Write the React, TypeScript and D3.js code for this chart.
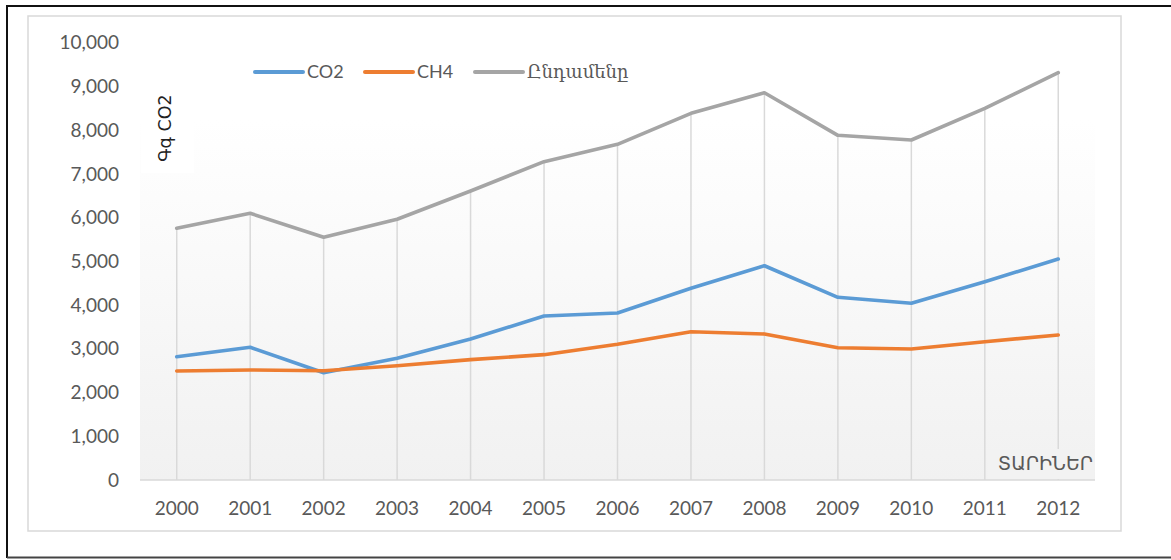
import React from "react";
import * as d3 from "d3";

const years = ["2000","2001","2002","2003","2004","2005","2006","2007","2008","2009","2010","2011","2012"];
const co2 = [2820, 3035, 2454, 2783, 3224, 3750, 3819, 4384, 4900, 4178, 4041, 4535, 5054];
const ch4 = [2493, 2515, 2499, 2614, 2752, 2866, 3105, 3391, 3339, 3025, 2996, 3163, 3316];
const total = [5756, 6099, 5550, 5962, 6609, 7279, 7677, 8385, 8856, 7882, 7775, 8500, 9314];
const yTicks = [0, 1000, 2000, 3000, 4000, 5000, 6000, 7000, 8000, 9000, 10000];
const seriesNames = ["CO2", "CH4", "Ընդամենը"];
const seriesColors = ["#5B9BD5", "#ED7D31", "#A5A5A5"];
const yTitle = "Գգ CO2";
const xTitle = "ՏԱՐԻՆԵՐ";

export default function App() {
  const W = 1171, H = 560;
  const plotL = 140, plotR = 1095, plotT = 42.7, plotB = 480;
  const x = d3.scaleBand<string>().domain(years).range([plotL, plotR]).padding(0);
  const cx = (d: string) => (x(d) as number) + x.bandwidth() / 2;
  const y = d3.scaleLinear().domain([0, 10000]).range([plotB, plotT]);
  const fmt = d3.format(",");
  const series = [co2, ch4, total];
  const line = d3.line<number>().x((_, i) => cx(years[i])).y((v) => y(v));
  const font = "Lato, 'DejaVu Sans', sans-serif";
  const armFont = "'DejaVu Serif', serif";
  const legendX = [255, 365, 475];

  return (
    <svg width={W} height={H} style={{ position: "absolute", left: 0, top: 0 }}>
      <defs>
        <linearGradient id="bg" x1="0" y1="0" x2="0" y2="1">
          <stop offset="0%" stopColor="#ffffff" />
          <stop offset="20%" stopColor="#ffffff" />
          <stop offset="100%" stopColor="#f1f1f1" />
        </linearGradient>
      </defs>
      <rect x={0} y={0} width={W} height={H} fill="#fff" />
      {/* outer frame */}
      <line x1={7} y1={6} x2={W} y2={6} stroke="#111" strokeWidth={2} />
      <line x1={7} y1={5} x2={7} y2={558} stroke="#111" strokeWidth={2} />
      <line x1={7} y1={557.5} x2={W} y2={557.5} stroke="#444" strokeWidth={2} />
      {/* chart area border */}
      <rect x={28} y={16} width={1093} height={515} fill="#fff" stroke="#d9d9d9" strokeWidth={1.5} />
      {/* plot area */}
      <rect x={plotL} y={30} width={plotR - plotL} height={plotB - 30} fill="url(#bg)" />
      {/* y-title box */}
      <rect x={141} y={85} width={53} height={88} fill="#fff" />
      {/* drop lines */}
      {years.map((yr, i) => (
        <line key={yr} x1={cx(yr)} x2={cx(yr)} y1={y(Math.max(co2[i], ch4[i], total[i]))} y2={plotB}
          stroke="#d9d9d9" strokeWidth={1.5} />
      ))}
      {/* x axis */}
      <line x1={plotL} x2={plotR} y1={plotB} y2={plotB} stroke="#d9d9d9" strokeWidth={1.5} />
      {/* y tick labels */}
      {yTicks.map((t) => (
        <text key={t} x={119} y={y(t)} dy="0.35em" textAnchor="end" fontFamily={font} fontSize={19} fill="#595959">
          {fmt(t)}
        </text>
      ))}
      {/* x tick labels */}
      {years.map((yr) => (
        <text key={yr} x={cx(yr)} y={508} dy="0.35em" textAnchor="middle" fontFamily={font} fontSize={19} fill="#595959">
          {yr}
        </text>
      ))}
      {/* series */}
      {series.map((s, k) => (
        <path key={k} d={line(s) as string} fill="none" stroke={seriesColors[k]} strokeWidth={3.6}
          strokeLinejoin="round" strokeLinecap="round" />
      ))}
      {/* x-title */}
      <rect x={988} y={449} width={106} height={30} fill="#f2f2f2" />
      <text x={1093} y={470} textAnchor="end" fontFamily="'DejaVu Sans', sans-serif" fontSize={19} fill="#595959">
        {xTitle}
      </text>
      {/* y-title */}
      <text transform={`translate(171,128) rotate(-90)`} textAnchor="middle" fontFamily="'DejaVu Sans', sans-serif"
        fontSize={17.5} fill="#222">
        {yTitle}
      </text>
      {/* legend */}
      {seriesNames.map((n, k) => (
        <g key={n}>
          <line x1={legendX[k]} x2={legendX[k] + 48} y1={72} y2={72} stroke={seriesColors[k]} strokeWidth={4}
            strokeLinecap="round" />
          <text x={legendX[k] + 52} y={72} dy="0.35em" fontFamily={k === 2 ? armFont : font} fontSize={18} fill="#595959">
            {n}
          </text>
        </g>
      ))}
    </svg>
  );
}
